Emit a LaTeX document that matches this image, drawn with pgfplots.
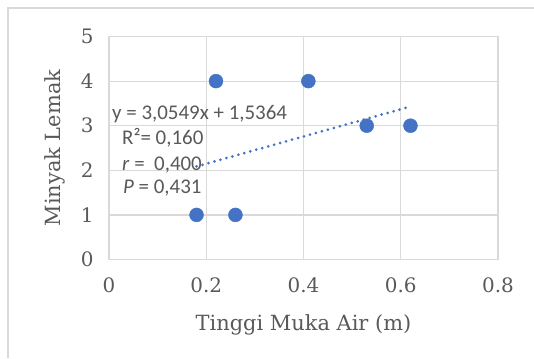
\documentclass[border=0pt]{standalone}
\usepackage{pgfplots}
\pgfplotsset{compat=1.18}
\usepackage{fontspec}
\setmainfont{DejaVu Serif}
\newfontfamily\calfont{Carlito}
\definecolor{txt}{HTML}{595959}
\definecolor{grd}{HTML}{D9D9D9}
\definecolor{pt}{HTML}{4472C4}
\begin{document}
\begin{tikzpicture}[x=1bp,y=1bp]
\path[use as bounding box] (0,0) rectangle (534,358);
\draw[grd, line width=1.2bp] (8,0) -- (8,350) -- (534,350);
\begin{axis}[
  at={(109bp,98.5bp)}, anchor=south west,
  scale only axis, width=389bp, height=223bp,
  xmin=0, xmax=0.8, ymin=0, ymax=5,
  xtick={0,0.2,0.4,0.6,0.8}, ytick={0,1,2,3,4,5},
  xticklabels={0,0.2,0.4,0.6,0.8},
  grid=major, major grid style={grd, line width=1.2bp},
  axis line style={grd, line width=1.2bp},
  tick style={draw=none},
  ticklabel style={font=\fontsize{20}{22}\selectfont, text=txt},
  yticklabel style={xshift=-12bp},
  xticklabel style={yshift=-15bp},
  /pgf/number format/assume math mode=true,
  xlabel={Tinggi Muka Air (m)}, ylabel={Minyak Lemak},
  label style={font=\fontsize{21}{24}\selectfont, text=txt},
  xlabel style={at={(axis description cs:0.5,-0.2937)}, anchor=center},
  ylabel style={at={(axis description cs:-0.1388,0.5)}, anchor=center},
  clip=false,
]
\addplot[only marks, mark=*, mark size=7bp, mark options={fill=pt, draw=pt}]
  coordinates {(0.18,1) (0.22,4) (0.26,1) (0.41,4) (0.53,3) (0.62,3)};
\addplot[pt, line width=3bp, dash pattern=on 0pt off 6.2bp, line cap=round]
  coordinates {(0.18,2.0863) (0.62,3.4304)};
\end{axis}
\begin{scope}[every node/.style={font=\calfont\fontsize{21}{24}\selectfont, text=txt, anchor=base west, inner sep=0pt}]
\node at (112,238.5) {y = 3,0549x + 1,5364};
\node at (122,214) {R²= 0,160};
\node at (122,188) {\textit{r} =\ \ 0,400};
\node at (123,165) {\textit{P} = 0,431};
\end{scope}
\end{tikzpicture}
\end{document}
